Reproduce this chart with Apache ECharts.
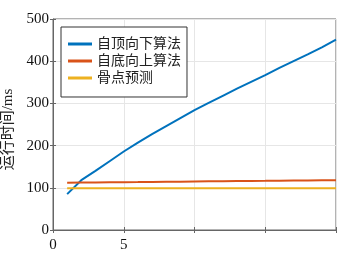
<!DOCTYPE html>
<html><head><meta charset="utf-8">
<script src="https://cdn.jsdelivr.net/npm/echarts@6/dist/echarts.min.js"></script>
<style>html,body{margin:0;padding:0;background:#fff}#c{width:355px;height:255px}</style>
</head><body><div id="c"></div>
<script>
const xValues = [1,2,3,4,5,6,7,8,9,10,11,12,13,14,15,16,17,18,19,20];
const topDown = [85,118,140,163,186,207,227,246,265,284,301,318,335,351,367,384,400,416,433,451];
const bottomUp = [112,112.3,112.6,113,113.3,113.6,114,114.3,114.6,115,115.3,115.6,116,116.3,116.6,117,117.2,117.4,117.6,117.8];
const skeleton = [99,99,99,99,99,99,99,99,99,99,99,99,99,99,99,99,99,99,99,99];
const seriesNames = ['自顶向下算法','自底向上算法','骨点预测'];
const xTickLabels = ['0','5'];
const yAxisName = '运行时间/ms';

const FONT = "'Liberation Serif','Noto Sans CJK SC',serif";
const axisColor = '#666';
const chart = echarts.init(document.getElementById('c'));
const pair = (ys) => xValues.map((x,i)=>[x, ys[i]]);
chart.setOption({
  animation:false,
  grid:{left:53,right:19,top:19,bottom:25,show:true,borderColor:axisColor,borderWidth:1,containLabel:false,outerBoundsMode:'none'},
  legend:{
    orient:'vertical', left:61, top:27,
    padding:[10,6,12,7], itemGap:3,
    backgroundColor:'#fff', borderColor:'#333', borderWidth:1,
    icon:'rect', itemWidth:24, itemHeight:3,
    textStyle:{fontFamily:FONT,fontSize:14,color:'#222'},
    data:seriesNames
  },
  xAxis:[{
    type:'value',min:0,max:20,interval:5,
    axisLine:{show:true,lineStyle:{color:axisColor}},
    axisTick:{inside:true,length:3,lineStyle:{color:axisColor}},
    splitLine:{show:true,lineStyle:{color:'#e6e6e6'}},
    axisLabel:{fontFamily:FONT,fontSize:15,color:'#111',margin:8,
      formatter:(v)=> xTickLabels.includes(String(v)) ? String(v) : ''}
  },{
    type:'value',min:0,max:20,interval:5,position:'top',
    axisLine:{show:false},axisTick:{inside:true,length:3,lineStyle:{color:axisColor}},
    axisLabel:{show:false},splitLine:{show:false}
  }],
  yAxis:[{
    type:'value',min:0,max:500,interval:100,
    name:yAxisName,nameLocation:'middle',nameGap:28,
    nameTextStyle:{fontFamily:FONT,fontSize:15,color:'#222',padding:[0,0,0,-10]},
    axisLine:{show:true,lineStyle:{color:axisColor}},
    axisTick:{inside:true,length:3,lineStyle:{color:axisColor}},
    splitLine:{show:true,lineStyle:{color:'#e6e6e6'}},
    axisLabel:{fontFamily:FONT,fontSize:15,color:'#111',margin:4}
  },{
    type:'value',min:0,max:500,interval:100,position:'right',
    axisLine:{show:false},axisTick:{inside:true,length:3,lineStyle:{color:axisColor}},
    axisLabel:{show:false},splitLine:{show:false}
  }],
  series:[
    {name:seriesNames[0],type:'line',data:pair(topDown),showSymbol:false,smooth:false,lineStyle:{width:2,color:'#0072BD'},itemStyle:{color:'#0072BD'}},
    {name:seriesNames[1],type:'line',data:pair(bottomUp),showSymbol:false,lineStyle:{width:2,color:'#D95319'},itemStyle:{color:'#D95319'}},
    {name:seriesNames[2],type:'line',data:pair(skeleton),showSymbol:false,lineStyle:{width:2,color:'#EDB120'},itemStyle:{color:'#EDB120'}}
  ]
});
</script></body></html>
